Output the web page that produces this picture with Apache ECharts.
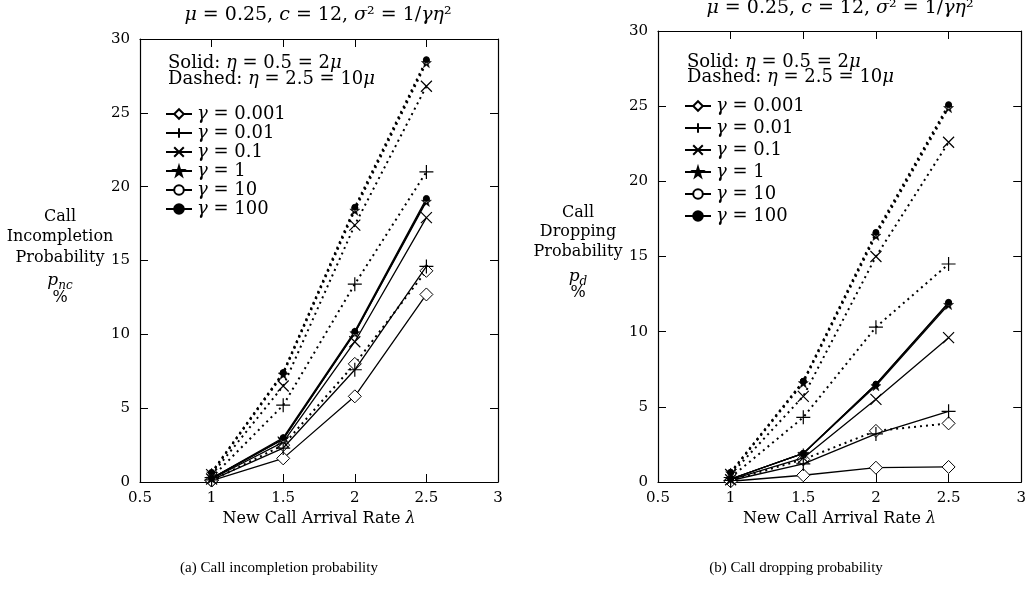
<!DOCTYPE html>
<html><head><meta charset="utf-8">
<script src="https://cdn.jsdelivr.net/npm/echarts@6/dist/echarts.min.js"></script>
<style>html,body{margin:0;padding:0;background:#fff}#c{width:1029px;height:602px}</style>
</head><body><div id="c"></div>
<script>
// ---------- data ----------
const lambdaVals = [1, 1.5, 2, 2.5];
const gammaNames = ['0.001', '0.01', '0.1', '1', '10', '100'];
const xTicks = [0.5, 1, 1.5, 2, 2.5, 3];
const yTicks = [0, 5, 10, 15, 20, 25, 30];

// (a) call incompletion probability, solid (eta = 0.5)
const pncSolidG0001 = [0.10, 1.6, 5.8, 12.7];
const pncSolidG001  = [0.15, 2.3, 7.6, 14.6];
const pncSolidG01   = [0.20, 2.7, 9.5, 17.9];
const pncSolidG1    = [0.25, 2.9, 10.1, 19.0];
const pncSolidG10   = [0.25, 2.9, 10.1, 19.1];
const pncSolidG100  = [0.25, 3.0, 10.2, 19.2];
// (a) dashed (eta = 2.5)
const pncDashG0001 = [0.10, 2.5, 8.0, 14.3];
const pncDashG001  = [0.30, 5.2, 13.4, 21.0];
const pncDashG01   = [0.50, 6.5, 17.4, 26.8];
const pncDashG1    = [0.60, 7.3, 18.4, 28.4];
const pncDashG10   = [0.60, 7.4, 18.5, 28.5];
const pncDashG100  = [0.65, 7.4, 18.6, 28.6];

// (b) call dropping probability, solid
const pdSolidG0001 = [0.05, 0.45, 0.95, 1.0];
const pdSolidG001  = [0.10, 1.2, 3.2, 4.7];
const pdSolidG01   = [0.15, 1.6, 5.5, 9.6];
const pdSolidG1    = [0.20, 1.9, 6.4, 11.8];
const pdSolidG10   = [0.20, 1.9, 6.5, 11.9];
const pdSolidG100  = [0.20, 1.9, 6.5, 11.95];
// (b) dashed
const pdDashG0001 = [0.10, 1.5, 3.4, 3.9];
const pdDashG001  = [0.30, 4.3, 10.3, 14.5];
const pdDashG01   = [0.50, 5.7, 15.0, 22.6];
const pdDashG1    = [0.60, 6.6, 16.4, 24.9];
const pdDashG10   = [0.60, 6.7, 16.5, 25.0];
const pdDashG100  = [0.65, 6.7, 16.6, 25.1];

// ---------- styles ----------
const SERIF = 'DejaVu Serif';
const STAR = 'path://M50,0 L61,35 L98,35 L68,57 L79,91 L50,70 L21,91 L32,57 L2,35 L39,35 Z';
const PLUS = 'path://M0,50 L100,50 M50,0 L50,100';
const CROSS = 'path://M0,0 L100,100 M100,0 L0,100';
const marker = {
  '0.001': {symbol: 'diamond', symbolSize: 13, itemStyle: {color: '#fff', borderColor: '#000', borderWidth: 1}},
  '0.01':  {symbol: PLUS, symbolSize: 14, itemStyle: {color: '#000', borderColor: '#000', borderWidth: 1.2}},
  '0.1':   {symbol: CROSS, symbolSize: 11, itemStyle: {color: '#000', borderColor: '#000', borderWidth: 1.2}},
  '1':     {symbol: STAR, symbolSize: 10, itemStyle: {color: '#000', borderColor: '#000', borderWidth: 0.5}},
  '10':    {symbol: 'circle', symbolSize: 6, itemStyle: {color: '#fff', borderColor: '#000', borderWidth: 1}},
  '100':   {symbol: 'circle', symbolSize: 6, itemStyle: {color: '#000', borderColor: '#000', borderWidth: 1}}
};

function mk(name, vals, dotted, axisIdx) {
  const m = marker[name];
  return {
    type: 'line', name: name,
    xAxisIndex: axisIdx, yAxisIndex: axisIdx,
    data: lambdaVals.map((x, i) => [x, vals[i]]),
    symbol: m.symbol, symbolSize: m.symbolSize,
    itemStyle: m.itemStyle,
    lineStyle: {color: '#000', width: dotted ? 2 : 1.3, type: dotted ? [2, 4] : 'solid'},
    showSymbol: true, silent: true, animation: false,
    z: dotted ? 2 : 3
  };
}

const series = [
  mk('0.001', pncSolidG0001, false, 0), mk('0.01', pncSolidG001, false, 0), mk('0.1', pncSolidG01, false, 0),
  mk('1', pncSolidG1, false, 0), mk('10', pncSolidG10, false, 0), mk('100', pncSolidG100, false, 0),
  mk('0.001', pncDashG0001, true, 0), mk('0.01', pncDashG001, true, 0), mk('0.1', pncDashG01, true, 0),
  mk('1', pncDashG1, true, 0), mk('10', pncDashG10, true, 0), mk('100', pncDashG100, true, 0),
  mk('0.001', pdSolidG0001, false, 2), mk('0.01', pdSolidG001, false, 2), mk('0.1', pdSolidG01, false, 2),
  mk('1', pdSolidG1, false, 2), mk('10', pdSolidG10, false, 2), mk('100', pdSolidG100, false, 2),
  mk('0.001', pdDashG0001, true, 2), mk('0.01', pdDashG001, true, 2), mk('0.1', pdDashG01, true, 2),
  mk('1', pdDashG1, true, 2), mk('10', pdDashG10, true, 2), mk('100', pdDashG100, true, 2)
];

const grids = [
  {left: 140, top: 39, width: 358, height: 443},
  {left: 658, top: 31, width: 364, height: 451}
];

function xAx(gi, top) {
  return {
    type: 'value', gridIndex: gi, position: top ? 'top' : 'bottom',
    min: xTicks[0], max: xTicks[xTicks.length - 1], interval: xTicks[1] - xTicks[0],
    name: top ? '' : 'New Call Arrival Rate {i|λ}', nameLocation: 'middle', nameGap: 25,
    nameTextStyle: {fontFamily: SERIF, fontSize: 16, color: '#000', rich: {i: {fontFamily: SERIF, fontStyle: 'italic', fontSize: 16}}},
    axisLine: {show: true, onZero: false, lineStyle: {color: '#000', width: 1.2}},
    axisTick: {show: true, inside: true, length: 8, lineStyle: {color: '#000', width: 1}},
    axisLabel: {show: !top, margin: 9, fontFamily: SERIF, fontSize: 15, color: '#000',
      formatter: v => String(v)},
    splitLine: {show: false}
  };
}
function yAx(gi, right) {
  return {
    type: 'value', gridIndex: gi, position: right ? 'right' : 'left',
    min: yTicks[0], max: yTicks[yTicks.length - 1], interval: yTicks[1] - yTicks[0],
    axisLine: {show: true, onZero: false, lineStyle: {color: '#000', width: 1.2}},
    axisTick: {show: true, inside: true, length: 8, lineStyle: {color: '#000', width: 1}},
    axisLabel: {show: !right, margin: 10, fontFamily: SERIF, fontSize: 15, color: '#000',
      formatter: v => String(v)},
    splitLine: {show: false}
  };
}

function legendFor(left, top, gap) {
  return {
    data: gammaNames, orient: 'vertical', left: left, top: top,
    itemWidth: 26, itemHeight: 12, itemGap: gap, selectedMode: false,
    formatter: n => '{i|γ} = ' + n,
    textStyle: {fontFamily: SERIF, fontSize: 18, color: '#000', lineHeight: 16,
      rich: {i: {fontFamily: SERIF, fontStyle: 'italic', fontSize: 18, lineHeight: 16}}}
  };
}

function txt(text, x, y, size, align) {
  return {
    type: 'text', silent: true, z: 10,
    style: {text: text, x: x, y: y, fill: '#000', align: align || 'left', verticalAlign: 'middle',
      font: size + 'px "' + SERIF + '"',
      rich: {i: {fontFamily: SERIF, fontStyle: 'italic', fontSize: size},
             sub: {fontFamily: SERIF, fontStyle: 'italic', fontSize: Math.round(size * 0.7), padding: [9, 0, 0, 0]}}}
  };
}
function cap(text, x, y) {
  return {type: 'text', silent: true,
    style: {text: text, x: x, y: y, fill: '#000', align: 'center', verticalAlign: 'middle',
      font: '15px "Liberation Serif"'}};
}

const graphic = [
  txt('{i|μ} = 0.25, {i|c} = 12, {i|σ}² = 1/{i|γη}²', 318, 15, 19, 'center'),
  txt('{i|μ} = 0.25, {i|c} = 12, {i|σ}² = 1/{i|γη}²', 840, 8, 19, 'center'),
  txt('Solid: {i|η} = 0.5 = 2{i|μ}', 168, 63, 18),
  txt('Dashed: {i|η} = 2.5 = 10{i|μ}', 168, 79, 18),
  txt('Solid: {i|η} = 0.5 = 2{i|μ}', 687, 62, 18),
  txt('Dashed: {i|η} = 2.5 = 10{i|μ}', 687, 77, 18),
  txt('Call', 60, 217, 16, 'center'),
  txt('Incompletion', 60, 237, 16, 'center'),
  txt('Probability', 60, 258, 16, 'center'),
  txt('{i|p}{sub|nc}', 60, 281, 17, 'center'),
  txt('%', 60, 298, 16, 'center'),
  txt('Call', 578, 213, 16, 'center'),
  txt('Dropping', 578, 232, 16, 'center'),
  txt('Probability', 578, 252, 16, 'center'),
  txt('{i|p}{sub|d}', 578, 277, 17, 'center'),
  txt('%', 578, 293, 16, 'center'),
  cap('(a) Call incompletion probability', 279, 568),
  cap('(b) Call dropping probability', 796, 568)
];

const chart = echarts.init(document.getElementById('c'), null, {renderer: 'canvas'});
chart.setOption({
  backgroundColor: '#fff',
  animation: false,
  grid: grids,
  xAxis: [xAx(0, false), xAx(0, true), xAx(1, false), xAx(1, true)],
  yAxis: [yAx(0, false), yAx(0, true), yAx(1, false), yAx(1, true)],
  legend: [legendFor(160, 100, 1), legendFor(679, 92, 4)],
  graphic: graphic,
  series: series.map(s => Object.assign(s, {
    xAxisIndex: s.xAxisIndex === 0 ? 0 : 2,
    yAxisIndex: s.yAxisIndex === 0 ? 0 : 2
  }))
});
</script></body></html>
